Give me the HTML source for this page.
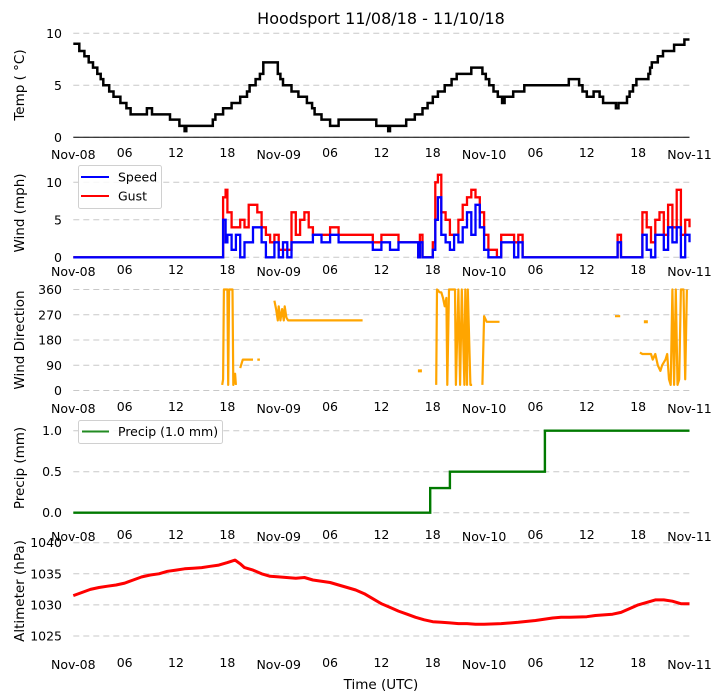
<!DOCTYPE html>
<html><head><meta charset="utf-8">
<style>
html,body{margin:0;padding:0;background:#fff;}
svg{display:block;font-family:"DejaVu Sans","Liberation Sans",sans-serif;}
</style></head>
<body>
<svg id="chart" width="722" height="700" viewBox="0 0 722 700" xmlns="http://www.w3.org/2000/svg">
<text x="381" y="24" font-size="16" text-anchor="middle" fill="#000">Hoodsport 11/08/18 - 11/10/18</text>
<text x="381" y="689" font-size="13.5" text-anchor="middle" fill="#000">Time (UTC)</text>
</svg>
<script>
// ---- data ----
const xTickHours = [0, 6, 12, 18, 24, 30, 36, 42, 48, 54, 60, 66, 72];
const xTickLabels = ["Nov-08","06","12","18","Nov-09","06","12","18","Nov-10","06","12","18","Nov-11"];
const tempHours = [0,0.7,1.3,1.8,2.3,2.8,3.2,3.5,4.2,4.7,5.5,6.2,6.7,8.6,9.2,11.3,12.4,13.0,13.2,16.3,16.6,17.0,17.5,18.5,19.5,20.3,20.6,21.3,21.8,22.2,23.9,24.2,24.5,25.5,26.3,27.3,27.9,28.2,29.0,30.0,31.0,35.4,36.8,37.0,38.9,39.9,40.8,41.4,42.0,42.6,43.4,44.2,44.8,46.5,47.8,48.2,48.6,49.1,49.6,50.1,50.4,50.7,51.4,52.7,57.9,59.1,59.5,60.0,60.8,61.5,61.9,63.4,63.7,64.0,64.7,65.0,65.4,65.8,67.2,67.4,67.6,68.3,68.9,70.2,71.4,72.0];
const tempValues = [9,8.3,7.8,7.2,6.7,6.1,5.6,5,4.4,3.9,3.3,2.8,2.2,2.8,2.2,1.7,1.1,0.6,1.1,1.7,2.2,2.2,2.8,3.3,3.9,4.4,5,5.6,6.1,7.2,6.1,5.6,5,4.4,3.9,3.3,2.8,2.2,1.7,1.1,1.7,1.1,0.6,1.1,1.7,2.2,2.8,3.3,3.9,4.4,5,5.6,6.1,6.7,6.1,5.6,5,4.4,3.9,3.3,3.9,3.9,4.4,5,5.6,5,4.4,3.9,4.4,3.9,3.3,2.8,3.3,3.3,3.9,4.4,5,5.6,6.1,6.7,7.2,7.8,8.3,8.9,9.4,9.4];
const windHours = [0,17.4,17.5,17.8,18,18.5,19,19.5,20,20.5,21,21.5,22,22.5,23,23.5,24,24.5,25,25.5,26,26.5,27,27.5,28,29,30,31,33,35,36,37,38,39,40.2,40.3,40.5,40.8,41,42,42.3,42.6,43,43.5,44,44.5,45,45.5,46,46.5,47,47.5,48,48.5,49,49.5,50,51,51.5,52,52.5,63.2,63.6,64,66.3,66.5,67,67.5,68,68.5,69,69.5,70,70.5,71,71.5,72];
const windSpeed = [0,0,5,2,3,1,3,0,2,2,4,4,2,0,0,2,0,2,0,2,2,2,2,2,3,2,3,2,2,1,2,1,2,2,2,0,2,0,0,1,5,8,3,2,1,3,2,4,6,3,7,4,1,0,0,0,2,2,0,2,0,0,2,0,0,3,1,0,3,3,1,4,2,4,0,3,2];
const windGust = [0,0,8,9,6,4,4,5,4,7,7,6,4,3,2,3,1,1,1,6,3,5,6,4,3,3,4,3,3,2,3,3,2,2,2,0,3,0,0,2,10,11,6,5,3,3,5,7,8,9,8,6,3,1,1,0,3,3,2,3,0,0,3,0,0,6,4,2,5,6,3,7,4,9,3,5,4];
const dirHours = [17.4,17.5,17.6,18.0,18.1,18.2,18.6,18.7,18.9,19.0,null,19.5,19.8,21.0,null,21.5,21.8,null,23.5,23.7,23.9,24.0,24.2,24.4,24.6,24.7,24.9,25.1,33.8,null,40.5,null,42.4,42.5,42.8,43.0,43.2,43.4,43.6,43.7,43.9,44.6,44.7,45.0,45.2,45.4,45.7,45.8,46.0,46.1,46.4,46.6,null,47.8,48.0,48.3,49.8,null,63.3,63.9,null,66.9,null,66.2,66.5,67.2,67.5,67.7,68.0,68.3,68.6,68.8,69.2,69.4,69.6,69.8,70.0,70.2,70.4,70.6,70.8,71.0,71.3,71.5,71.7];
const dirValues = [20,40,360,360,20,360,360,20,60,20,null,80,110,110,null,110,110,null,320,290,250,300,250,290,250,300,260,250,250,null,70,null,20,360,350,350,330,300,330,20,360,360,20,360,20,360,20,360,20,360,20,20,null,20,265,245,245,null,265,265,null,245,null,135,130,130,130,110,130,90,70,90,110,130,40,20,360,20,360,20,40,360,360,40,360];
const precipHours = [0,41.7,44.0,55.1,72];
const precipValues = [0,0.3,0.5,1.0,1.0];
const altHours = [0,1,2,3,4,5,6,7,8,9,10,11,12,13,14,15,16,17,18,18.9,19.5,20,21,22,23,24,26,27,28,30,31,32,33,34,35,36,37,38,39,40,41,42,43,44,45,46,47,48,50,52,54,56,57,58,60,61,62,63,64,65,66,67,68,69,70,71,72];
const altValues = [1031.5,1032,1032.5,1032.8,1033,1033.2,1033.5,1034,1034.5,1034.8,1035,1035.4,1035.6,1035.8,1035.9,1036,1036.2,1036.4,1036.8,1037.2,1036.6,1036,1035.6,1035,1034.6,1034.5,1034.3,1034.4,1034,1033.6,1033.2,1032.8,1032.4,1031.8,1031,1030.2,1029.6,1029,1028.5,1028,1027.6,1027.3,1027.2,1027.1,1027,1027,1026.9,1026.9,1027,1027.2,1027.5,1027.9,1028,1028,1028.1,1028.3,1028.4,1028.5,1028.8,1029.4,1030,1030.4,1030.8,1030.8,1030.6,1030.2,1030.2];

// ---- layout ----
const svg = document.getElementById('chart');
const NS = 'http://www.w3.org/2000/svg';
const X0 = 73.3, X1 = 689.5;
function xs(h){ return X0 + (X1 - X0) * h / 72; }
function mk(tag, attrs, parent){ const e = document.createElementNS(NS, tag); for (const k in attrs) e.setAttribute(k, attrs[k]); (parent||svg).appendChild(e); return e; }
function ys(p, v){ return p.yBot - (v - p.vMin) / (p.vMax - p.vMin) * (p.yBot - p.yTop); }

const panels = [
 {key:'temp', label:'Temp ( \u00B0C)', yTop:33.3, yBot:137.3, vMin:0, vMax:10, ticks:[0,5,10], tl:['0','5','10'], ly:85, xr:157},
 {key:'wind', label:'Wind (mph)', yTop:182.3, yBot:257.3, vMin:0, vMax:10, ticks:[0,5,10], tl:['0','5','10'], ly:213, xr:274},
 {key:'dir', label:'Wind Direction', yTop:289.5, yBot:390.5, vMin:0, vMax:360, ticks:[0,90,180,270,360], tl:['0','90','180','270','360'], ly:340, xr:411},
 {key:'precip', label:'Precip (mm)', yTop:430.7, yBot:512.7, vMin:0, vMax:1, ticks:[0,0.5,1], tl:['0.0','0.5','1.0'], ly:468, xr:539},
 {key:'alt', label:'Altimeter (hPa)', yTop:542.7, yBot:636, vMin:1025, vMax:1040, ticks:[1025,1030,1035,1040], tl:['1025','1030','1035','1040'], ly:591, xr:667}
];

panels.forEach(p => {
  const g = mk('g', {});
  
  
  p.ticks.forEach((t, i) => {
    const y = ys(p, t);
    const gl = mk('line', {x1:X0, x2:X1, y1:y, y2:y, stroke:'#c8c8c8', 'stroke-width':1, 'stroke-dasharray':'6,4'}, g);
    
    
    const tx = mk('text', {x:62, y:y+4.5, 'font-size':12.5, 'text-anchor':'end', fill:'#000'}, g);
    tx.textContent = p.tl[i];
    
    
  });
  xTickHours.forEach((h, i) => {
    const isDay = xTickLabels[i].startsWith('Nov');
    const tx = mk('text', {x:xs(h), y:p.xr + (isDay ? 2 : 0), 'font-size':12.5, 'text-anchor':'middle', fill:'#000'}, g);
    tx.textContent = xTickLabels[i];
    
    
  });
  const yl = mk('text', {x:0, y:0, 'font-size':13.5, 'text-anchor':'middle', fill:'#000', transform:'translate(24,' + p.ly + ') rotate(-90)'}, g);
  yl.textContent = p.label;
  
  
  p.g = g;
});

function stepPath(p, hs, vs){
  let d = '', prev = null;
  for (let i = 0; i < hs.length; i++){
    if (hs[i] === null){ prev = null; continue; }
    const x = xs(hs[i]), y = ys(p, vs[i]);
    if (prev === null) d += 'M' + x.toFixed(1) + ' ' + y.toFixed(1);
    else d += 'H' + x.toFixed(1) + 'V' + y.toFixed(1);
    prev = [x, y];
  }
  return d;
}
function linePath(p, hs, vs){
  let d = '', start = true;
  for (let i = 0; i < hs.length; i++){
    if (hs[i] === null){ start = true; continue; }
    d += (start ? 'M' : 'L') + xs(hs[i]).toFixed(1) + ' ' + ys(p, vs[i]).toFixed(1);
    start = false;
  }
  return d;
}

const P = {}; panels.forEach(p => P[p.key] = p);
const axis0 = mk('line', {x1:X0, x2:X1, y1:P.temp.yBot, y2:P.temp.yBot, stroke:'#000', 'stroke-width':1}, P.temp.g);


const tl = mk('path', {d:stepPath(P.temp, tempHours, tempValues), fill:'none', stroke:'#000', 'stroke-width':2.5}, P.temp.g);



const gl = mk('path', {d:stepPath(P.wind, windHours, windGust), fill:'none', stroke:'#ff0000', 'stroke-width':2.3}, P.wind.g);


const sl = mk('path', {d:stepPath(P.wind, windHours, windSpeed), fill:'none', stroke:'#0000ff', 'stroke-width':2.3}, P.wind.g);



const dl = mk('path', {d:linePath(P.dir, dirHours, dirValues), fill:'none', stroke:'#ffa500', 'stroke-width':2.2, 'stroke-linejoin':'round'}, P.dir.g);


dirHours.forEach((h, i) => {
  if (h === null) return;
  const prevNull = i === 0 || dirHours[i-1] === null, nextNull = i === dirHours.length-1 || dirHours[i+1] === null;
  if (prevNull && nextNull){
    const c = mk('rect', {x:xs(h)-2, y:ys(P.dir, dirValues[i])-1.5, width:4, height:3, fill:'#ffa500'}, P.dir.g);
    
    
  }
});

const pl = mk('path', {d:stepPath(P.precip, precipHours, precipValues), fill:'none', stroke:'#007a00', 'stroke-width':2.4}, P.precip.g);



const al = mk('path', {d:linePath(P.alt, altHours, altValues), fill:'none', stroke:'#ff0000', 'stroke-width':3, 'stroke-linejoin':'round'}, P.alt.g);



const lg1 = mk('g', {});


mk('rect', {x:78.5, y:165.5, width:83, height:43, rx:2, fill:'#fff', 'fill-opacity':0.85, stroke:'#d0d0d0'}, lg1);
mk('line', {x1:81, x2:109, y1:177, y2:177, stroke:'#0000ff', 'stroke-width':2}, lg1);
mk('line', {x1:81, x2:109, y1:196, y2:196, stroke:'#ff0000', 'stroke-width':2}, lg1);
const ls = mk('text', {x:118, y:181.5, 'font-size':12.5, fill:'#000'}, lg1); ls.textContent = 'Speed';


const lgt = mk('text', {x:118, y:200.5, 'font-size':12.5, fill:'#000'}, lg1); lgt.textContent = 'Gust';



const lg2 = mk('g', {});


mk('rect', {x:78.5, y:420.5, width:144, height:23, rx:2, fill:'#fff', 'fill-opacity':0.85, stroke:'#d0d0d0'}, lg2);
mk('line', {x1:82, x2:109, y1:431.5, y2:431.5, stroke:'#228b22', 'stroke-width':2}, lg2);
const lp = mk('text', {x:118, y:436, 'font-size':12.5, fill:'#000'}, lg2); lp.textContent = 'Precip (1.0 mm)';


</script>
</body></html>
